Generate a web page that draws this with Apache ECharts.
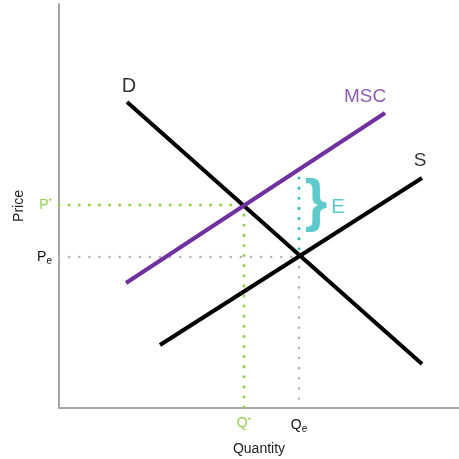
<!DOCTYPE html>
<html><head><meta charset="utf-8">
<script src="https://cdn.jsdelivr.net/npm/echarts@6/dist/echarts.min.js"></script>
<style>html,body{margin:0;padding:0;background:#fff;overflow:hidden}#c{width:459px;height:459px}</style>
</head><body><div id="c"></div>
<script>
// Curves: [quantity, price] endpoints
const demand = [[17, 76.5], [90.75, 11]];
const supply = [[25.25, 15.75], [90.75, 57.5]];
const msc = [[16.75, 31.25], [81.5, 73.75]];
// Equilibria
const Pe = 37.75, Qe = 60;
const Pstar = 50.75, Qstar = 46.25;
const externalityTop = 57.5;
const xTicks = [Qstar, Qe];
const yTicks = [Pe, Pstar];

const FONT = "'Liberation Sans', Arial, sans-serif";
const GREEN = '#92d050', GREY = '#b3b3b3', CYAN = '#33bdbd', PURPLE = '#7030a0';

function dotted(data, color, width) {
  return { type: 'line', data, symbol: 'none', silent: true,
    lineStyle: { color, width, type: [0.1, 10], cap: 'round' }, z: 1 };
}
function solid(data, color) {
  return { type: 'line', data, symbol: 'none', silent: true,
    lineStyle: { color, width: 4 }, z: 3 };
}
function tag(point, text, color, size, offset, weight) {
  return { type: 'scatter', symbolSize: 0, silent: true, z: 4,
    data: [point],
    label: { show: true, position: 'inside', formatter: text, color,
      fontSize: size, fontFamily: FONT, fontWeight: weight || 'normal', offset } };
}

const chart = echarts.init(document.getElementById('c'));
chart.setOption({
  animation: false,
  grid: { left: 59, right: 0, top: 4, bottom: 51, outerBoundsMode: 'none', containLabel: false },
  xAxis: {
    type: 'value', min: 0, max: 100,
    splitLine: { show: false }, axisTick: { show: false },
    axisLine: { lineStyle: { color: '#a6a6a6', width: 2 } },
    name: 'Quantity', nameLocation: 'middle', nameGap: 34,
    nameTextStyle: { fontSize: 14, color: '#222', fontFamily: FONT },
    axisLabel: {
      customValues: xTicks, margin: 8,
      formatter: v => v === Qstar ? '{g|Q}{gs|*}' : '{k|Q}{ks|e}',
      rich: {
        g: { color: GREEN, fontSize: 14, fontFamily: FONT },
        gs: { color: GREEN, fontSize: 9, fontFamily: FONT, padding: [0, 0, 6, 0] },
        k: { color: '#111', fontSize: 14, fontFamily: FONT },
        ks: { color: '#111', fontSize: 10, fontFamily: FONT, padding: [8, 0, 0, 0] }
      }
    }
  },
  yAxis: {
    type: 'value', min: 0, max: 101,
    splitLine: { show: false }, axisTick: { show: false },
    axisLine: { lineStyle: { color: '#a6a6a6', width: 2 } },
    name: 'Price', nameLocation: 'middle', nameGap: 33, nameRotate: 90,
    nameTextStyle: { fontSize: 14, color: '#222', fontFamily: FONT },
    axisLabel: {
      customValues: yTicks, margin: 7,
      formatter: v => v === Pstar ? '{g|P}{gs|*}' : '{k|P}{ks|e}',
      rich: {
        g: { color: GREEN, fontSize: 14, fontFamily: FONT },
        gs: { color: GREEN, fontSize: 9, fontFamily: FONT, padding: [0, 0, 6, 0] },
        k: { color: '#111', fontSize: 14, fontFamily: FONT },
        ks: { color: '#111', fontSize: 10, fontFamily: FONT, padding: [8, 0, 0, 0] }
      }
    }
  },
  series: [
    dotted([[0, Pstar], [Qstar, Pstar]], GREEN, 3),
    dotted([[Qstar, Pstar], [Qstar, 0]], GREEN, 3),
    dotted([[0, Pe], [Qe, Pe]], GREY, 2.5),
    dotted([[Qe, Pe], [Qe, 0]], GREY, 2.5),
    dotted([[Qe, externalityTop], [Qe, Pe]], CYAN, 3),
    solid(demand, '#000'),
    solid(supply, '#000'),
    solid(msc, PURPLE),
    tag(demand[0], 'D', '#000', 20, [2, -16]),
    tag(msc[1], 'MSC', PURPLE, 19, [-20, -16]),
    tag(supply[1], 'S', '#000', 19, [-2, -17]),
    tag([Qe, Pstar], '}', CYAN, 58, [17, -1], 'bold'),
    tag([Qe, Pstar], 'E', CYAN, 20, [39, 2])
  ]
});
</script>
</body></html>
